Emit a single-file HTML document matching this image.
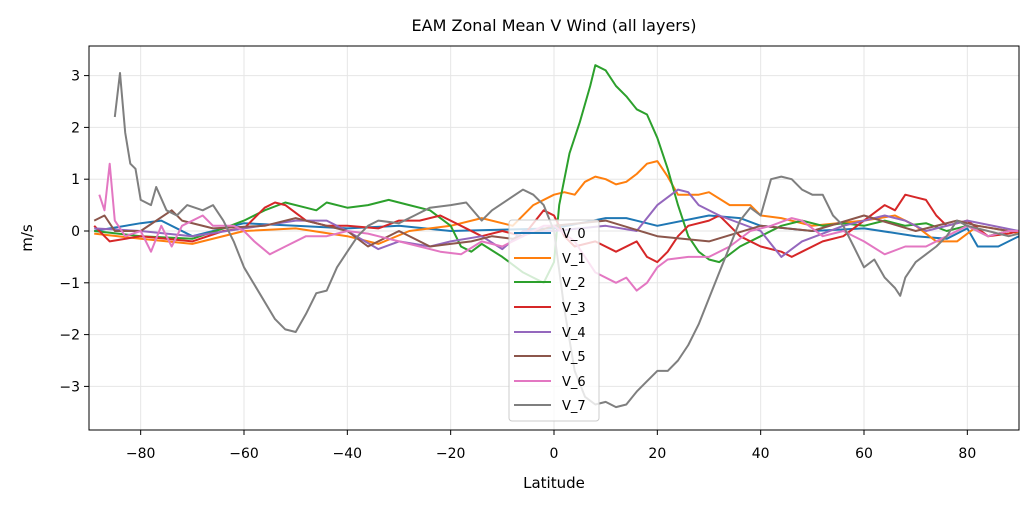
<!DOCTYPE html>
<html><head><meta charset="utf-8"><style>body{margin:0;background:#fff}svg{display:block;font-family:"DejaVu Sans","Liberation Sans",sans-serif}</style></head>
<body>
<svg id="s" width="1034" height="508" xmlns="http://www.w3.org/2000/svg">
<rect width="1034" height="508" fill="#fff"/>
<g id="grid" stroke="#e6e6e6" stroke-width="1"></g>
<g id="lines" fill="none" stroke-width="2" stroke-linejoin="round"></g>
<rect x="89" y="46" width="930" height="384" fill="none" stroke="#000" stroke-width="1"/>
<g id="ticks" font-size="14" fill="#000"></g>
<text x="554" y="31" text-anchor="middle" font-size="16">EAM Zonal Mean V Wind (all layers)</text>
<text x="554" y="488" text-anchor="middle" font-size="15">Latitude</text>
<text transform="translate(32,238) rotate(-90)" text-anchor="middle" font-size="15">m/s</text>
<g id="legend">
<rect x="509" y="220" width="90" height="201" rx="3" fill="#fff" fill-opacity="0.8" stroke="#ccc"/>
</g>
</svg>
<script>
const X=v=>89+(v+90)*930/180, Y=v=>231-v*51.8;
const ns="http://www.w3.org/2000/svg";
function el(p,t,a,txt){const e=document.createElementNS(ns,t);for(const k in a)e.setAttribute(k,a[k]);if(txt!=null)e.textContent=txt;document.getElementById(p).appendChild(e);return e;}
for(let v=-80;v<=80;v+=20){el("grid","line",{x1:X(v),x2:X(v),y1:46,y2:430});el("ticks","line",{x1:X(v),x2:X(v),y1:430,y2:435,stroke:"#000"});el("ticks","text",{x:X(v),y:458,"text-anchor":"middle"},(v<0?"\u2212":"")+Math.abs(v));}
for(let v=-3;v<=3;v++){el("grid","line",{x1:89,x2:1019,y1:Y(v),y2:Y(v)});el("ticks","line",{x1:84,x2:89,y1:Y(v),y2:Y(v),stroke:"#000"});el("ticks","text",{x:80,y:Y(v)+5,"text-anchor":"end"},(v<0?"\u2212":"")+Math.abs(v));}
const C=["#1f77b4","#ff7f0e","#2ca02c","#d62728","#9467bd","#8c564b","#e377c2","#7f7f7f"];
const D=[
[-89,0,-80,0.15,-76,0.2,-70,-0.1,-60,0.15,-50,0.1,-40,0.05,-30,0.1,-20,0,0,0.05,10,0.25,14,0.25,20,0.1,30,0.3,36,0.25,40,0.1,50,0,60,0.05,70,-0.1,76,-0.15,80,0.05,82,-0.3,86,-0.3,90,-0.1],
[-89,-0.05,-80,-0.15,-70,-0.25,-60,0,-50,0.05,-40,-0.1,-34,-0.25,-28,0,-20,0.1,-14,0.25,-8,0.1,-4,0.5,0,0.7,2,0.75,4,0.7,6,0.95,8,1.05,10,1.0,12,0.9,14,0.95,16,1.1,18,1.3,20,1.35,22,1.05,24,0.7,28,0.7,30,0.75,34,0.5,38,0.5,40,0.3,44,0.25,50,0.1,60,0.2,66,0.3,70,0.1,74,-0.2,78,-0.2,82,0.1,88,0,90,-0.05],
[-89,0,-80,-0.1,-70,-0.15,-64,0.05,-60,0.2,-56,0.4,-52,0.55,-48,0.45,-46,0.4,-44,0.55,-40,0.45,-36,0.5,-32,0.6,-28,0.5,-24,0.4,-20,0.1,-18,-0.3,-16,-0.4,-14,-0.25,-10,-0.5,-6,-0.8,-4,-0.9,-2,-1.0,0,-0.6,1,0.5,3,1.5,5,2.1,7,2.8,8,3.2,10,3.1,12,2.8,14,2.6,16,2.35,18,2.25,20,1.8,22,1.2,24,0.5,26,-0.1,28,-0.4,30,-0.55,32,-0.6,34,-0.45,36,-0.3,40,-0.1,44,0.1,48,0.2,52,0.1,56,0.15,60,0.1,64,0.2,68,0.1,72,0.15,76,0,80,0.1,84,-0.1,88,0,90,0],
[-89,0.1,-86,-0.2,-80,-0.1,-70,-0.2,-64,0,-60,0.05,-56,0.45,-54,0.55,-52,0.5,-48,0.2,-44,0.1,-40,0.1,-34,0.05,-30,0.2,-26,0.2,-22,0.3,-18,0.1,-14,-0.1,-10,0,-6,-0.1,-2,0.4,0,0.3,2,-0.1,4,-0.3,8,-0.2,12,-0.4,16,-0.2,18,-0.5,20,-0.6,22,-0.4,24,-0.1,26,0.1,30,0.2,32,0.3,34,0.1,36,-0.1,40,-0.3,44,-0.4,46,-0.5,48,-0.4,52,-0.2,56,-0.1,60,0.2,64,0.5,66,0.4,68,0.7,70,0.65,72,0.6,74,0.3,76,0.1,80,0.2,84,-0.1,88,-0.05,90,0],
[-89,0.05,-80,0,-70,-0.1,-60,0.05,-50,0.2,-44,0.2,-40,0,-34,-0.35,-30,-0.2,-24,-0.3,-20,-0.2,-14,-0.1,-10,-0.35,-6,0,0,0,10,0.1,16,0,20,0.5,24,0.8,26,0.75,28,0.5,32,0.3,40,0,44,-0.5,48,-0.2,56,0.1,64,0.3,68,0.2,72,0,80,0.2,90,0],
[-89,0.2,-87,0.3,-85,0,-80,0,-74,0.4,-72,0.2,-66,0.05,-56,0.1,-50,0.25,-44,0.1,-40,0,-36,-0.3,-30,0,-24,-0.3,-20,-0.25,-16,-0.2,-12,-0.1,-8,-0.15,0,0.1,10,0.2,20,-0.1,30,-0.2,40,0.1,50,0,60,0.3,70,0,78,0.2,82,0.1,88,0,90,0],
[-88,0.7,-87,0.4,-86,1.3,-85,0.2,-83,-0.1,-80,0,-78,-0.4,-76,0.1,-74,-0.3,-72,0.1,-68,0.3,-66,0.1,-62,0.1,-60,0,-58,-0.2,-55,-0.45,-52,-0.3,-48,-0.1,-44,-0.1,-40,0,-36,-0.05,-30,-0.2,-26,-0.3,-22,-0.4,-18,-0.45,-14,-0.2,-10,-0.3,-6,-0.1,-2,0.1,0,0.1,4,-0.2,8,-0.8,12,-1.0,14,-0.9,16,-1.15,18,-1.0,20,-0.7,22,-0.55,26,-0.5,30,-0.5,34,-0.3,38,0,42,0.1,46,0.25,48,0.2,52,-0.1,56,0,60,-0.2,64,-0.45,68,-0.3,72,-0.3,76,-0.1,80,0.1,84,-0.1,88,0,90,0],
[-85,2.2,-84,3.05,-83,1.9,-82,1.3,-81,1.2,-80,0.6,-78,0.5,-77,0.85,-75,0.4,-73,0.3,-71,0.5,-68,0.4,-66,0.5,-64,0.2,-62,-0.2,-60,-0.7,-57,-1.2,-54,-1.7,-52,-1.9,-50,-1.95,-48,-1.6,-46,-1.2,-44,-1.15,-42,-0.7,-40,-0.4,-38,-0.1,-36,0.1,-34,0.2,-30,0.15,-27,0.3,-24,0.45,-20,0.5,-17,0.55,-14,0.2,-12,0.4,-9,0.6,-6,0.8,-4,0.7,-2,0.5,0,0,2,-1.5,4,-2.7,6,-3.2,8,-3.35,10,-3.3,12,-3.4,14,-3.35,16,-3.1,18,-2.9,20,-2.7,22,-2.7,24,-2.5,26,-2.2,28,-1.8,30,-1.3,32,-0.8,34,-0.3,36,0.2,38,0.45,40,0.3,42,1.0,44,1.05,46,1.0,48,0.8,50,0.7,52,0.7,54,0.3,56,0.1,58,-0.3,60,-0.7,62,-0.55,64,-0.9,66,-1.1,67,-1.25,68,-0.9,70,-0.6,72,-0.45,74,-0.3,76,-0.1,78,0.2,80,0.1,84,0,88,-0.1,90,-0.05]];
D.forEach((d,i)=>{let p=[];for(let k=0;k<d.length;k+=2)p.push(X(d[k]).toFixed(1)+","+Y(d[k+1]).toFixed(1));el("lines","polyline",{points:p.join(" "),stroke:C[i]});});
const ys=[233,258,282,307,332,356,381,405];
ys.forEach((y,i)=>{el("legend","line",{x1:514,x2:551,y1:y,y2:y,stroke:C[i],"stroke-width":2});el("legend","text",{x:562,y:y+5,"font-size":"13"},"V_"+i);});
</script>
</body></html>
